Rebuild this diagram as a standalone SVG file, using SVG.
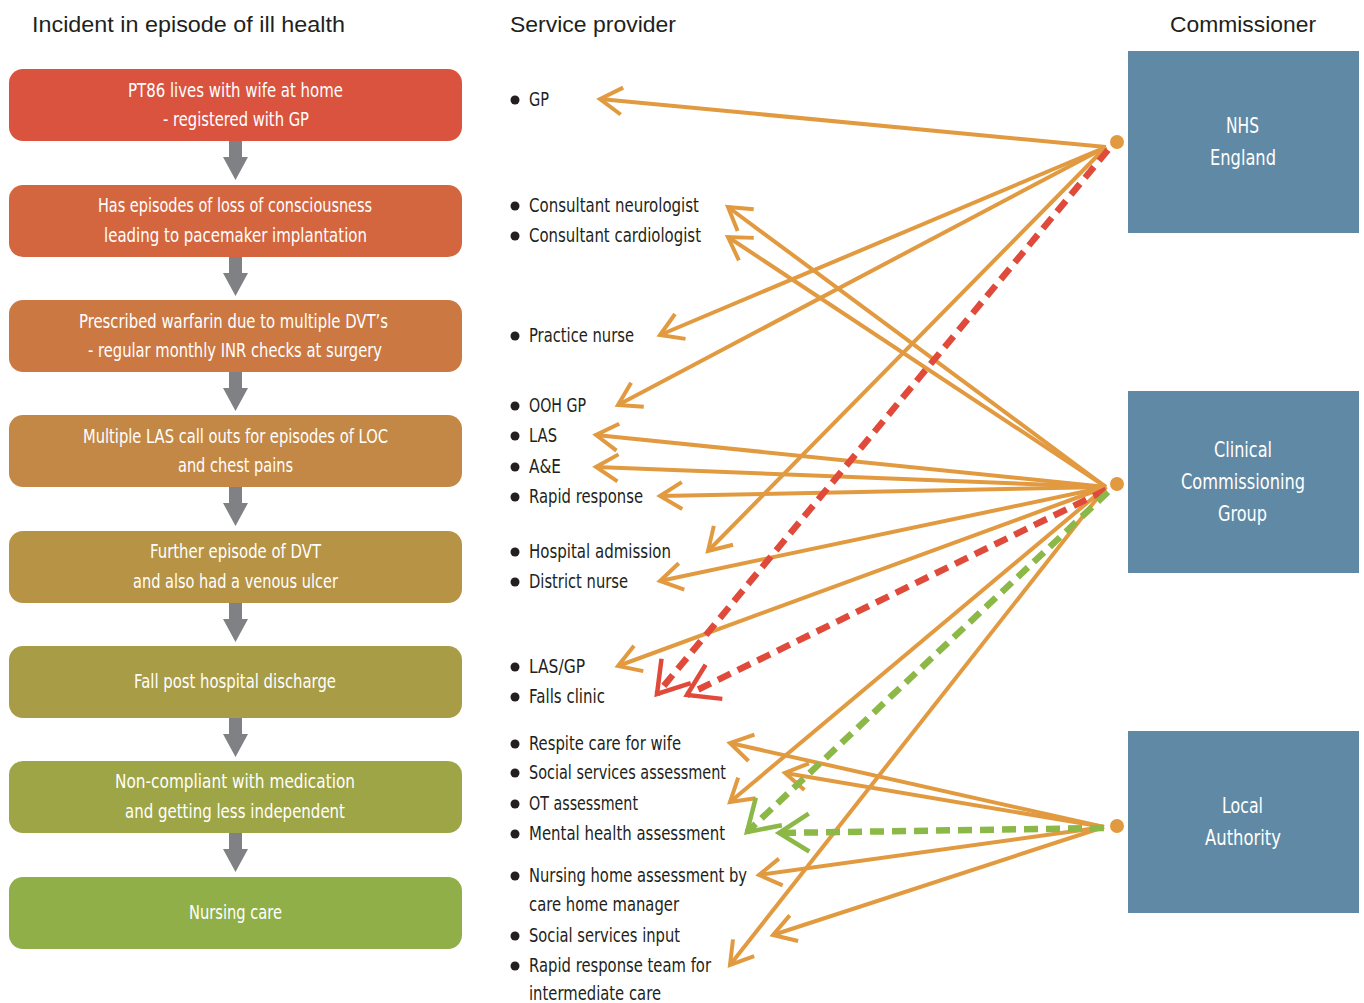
<svg xmlns="http://www.w3.org/2000/svg" width="1364" height="1003" viewBox="0 0 1364 1003">
<style>
.hdr{font-family:"Liberation Sans",Arial,sans-serif;font-size:22px;fill:#231F20}
.bx{font-family:"DejaVu Sans","Liberation Sans",sans-serif;font-size:19.5px;fill:#FFFFFF;text-anchor:middle}
.cm{font-family:"DejaVu Sans","Liberation Sans",sans-serif;font-size:21px;fill:#FFFFFF;text-anchor:middle}
.sp{font-family:"DejaVu Sans","Liberation Sans",sans-serif;font-size:19.5px;fill:#231F20}
.bul{fill:#231F20}
.garr{fill:#808184}
.comm{fill:#6089A5}
.o{fill:none;stroke:#E29A40;stroke-width:4;marker-end:url(#mo)}
.r{fill:none;stroke:#E04A3A;stroke-width:6.5;stroke-dasharray:14 8;marker-end:url(#mr)}
.g{fill:none;stroke:#8BB846;stroke-width:6.5;stroke-dasharray:14 8;marker-end:url(#mg)}
.dot{fill:#E29A40;stroke:#FFFFFF;stroke-width:3}
</style>
<defs>
<marker id="mo" markerUnits="userSpaceOnUse" orient="auto" refX="0" refY="0" markerWidth="60" markerHeight="60" viewBox="-40 -30 60 60" overflow="visible">
<path d="M-22,-13.5 L0,0 L-22,13.5" fill="none" stroke="#E29A40" stroke-width="4" stroke-dasharray="none"/>
</marker>
<marker id="mr" markerUnits="userSpaceOnUse" orient="auto" refX="0" refY="0" markerWidth="80" markerHeight="80" viewBox="-50 -40 80 80" overflow="visible">
<path d="M-30,-19 L0,0 L-30,19" fill="none" stroke="#E04A3A" stroke-width="4.5" stroke-dasharray="none"/>
</marker>
<marker id="mg" markerUnits="userSpaceOnUse" orient="auto" refX="0" refY="0" markerWidth="80" markerHeight="80" viewBox="-50 -40 80 80" overflow="visible">
<path d="M-30,-19 L0,0 L-30,19" fill="none" stroke="#8BB846" stroke-width="4.5" stroke-dasharray="none"/>
</marker>
<path id="ga" d="M229,0 H242 V16 H248 L235.5,39 L223,16 H229 Z"/>
</defs>
<rect width="1364" height="1003" fill="#FFFFFF"/>

<g id="headers">
<text class="hdr" x="32" y="32" textLength="313" lengthAdjust="spacingAndGlyphs">Incident in episode of ill health</text>
<text class="hdr" x="510" y="32" textLength="166" lengthAdjust="spacingAndGlyphs">Service provider</text>
<text class="hdr" x="1170" y="32" textLength="146" lengthAdjust="spacingAndGlyphs">Commissioner</text>
</g>

<g id="incidents">
<g id="inc1"><rect x="9" y="69" width="453" height="72" rx="14" fill="#D9533F"/><text class="bx" x="235.5" y="97" textLength="215" lengthAdjust="spacingAndGlyphs">PT86 lives with wife at home</text><text class="bx" x="236" y="126" textLength="146" lengthAdjust="spacingAndGlyphs">- registered with GP</text></g>
<g id="inc2"><rect x="9" y="185" width="453" height="72" rx="14" fill="#D4663F"/><text class="bx" x="235" y="212" textLength="274" lengthAdjust="spacingAndGlyphs">Has episodes of loss of consciousness</text><text class="bx" x="235.5" y="242" textLength="263" lengthAdjust="spacingAndGlyphs">leading to pacemaker implantation</text></g>
<g id="inc3"><rect x="9" y="300" width="453" height="72" rx="14" fill="#CB7843"/><text class="bx" x="233.5" y="328" textLength="309" lengthAdjust="spacingAndGlyphs">Prescribed warfarin due to multiple DVT’s</text><text class="bx" x="235" y="357" textLength="294" lengthAdjust="spacingAndGlyphs">- regular monthly INR checks at surgery</text></g>
<g id="inc4"><rect x="9" y="415" width="453" height="72" rx="14" fill="#C38845"/><text class="bx" x="235.5" y="443" textLength="305" lengthAdjust="spacingAndGlyphs">Multiple LAS call outs for episodes of LOC</text><text class="bx" x="235.5" y="472" textLength="115" lengthAdjust="spacingAndGlyphs">and chest pains</text></g>
<g id="inc5"><rect x="9" y="531" width="453" height="72" rx="14" fill="#B69345"/><text class="bx" x="235.5" y="558" textLength="171" lengthAdjust="spacingAndGlyphs">Further episode of DVT</text><text class="bx" x="235.5" y="588" textLength="205" lengthAdjust="spacingAndGlyphs">and also had a venous ulcer</text></g>
<g id="inc6"><rect x="9" y="646" width="453" height="72" rx="14" fill="#A89C46"/><text class="bx" x="235" y="688" textLength="202" lengthAdjust="spacingAndGlyphs">Fall post hospital discharge</text></g>
<g id="inc7"><rect x="9" y="761" width="453" height="72" rx="14" fill="#9DA546"/><text class="bx" x="235" y="788" textLength="240" lengthAdjust="spacingAndGlyphs">Non-compliant with medication</text><text class="bx" x="235" y="818" textLength="220" lengthAdjust="spacingAndGlyphs">and getting less independent</text></g>
<g id="inc8"><rect x="9" y="877" width="453" height="72" rx="14" fill="#90AF48"/><text class="bx" x="235.5" y="919" textLength="93" lengthAdjust="spacingAndGlyphs">Nursing care</text></g>
</g>

<g id="flow-arrows" class="garr">
<use href="#ga" y="141"/>
<use href="#ga" y="257"/>
<use href="#ga" y="372"/>
<use href="#ga" y="487"/>
<use href="#ga" y="603"/>
<use href="#ga" y="718"/>
<use href="#ga" y="833"/>
</g>

<g id="providers">
<circle class="bul" cx="515" cy="100" r="4.5"/><text class="sp" x="529" y="106" textLength="20" lengthAdjust="spacingAndGlyphs">GP</text>
<circle class="bul" cx="515" cy="206" r="4.5"/><text class="sp" x="529" y="212" textLength="170" lengthAdjust="spacingAndGlyphs">Consultant neurologist</text>
<circle class="bul" cx="515" cy="236" r="4.5"/><text class="sp" x="529" y="242" textLength="172" lengthAdjust="spacingAndGlyphs">Consultant cardiologist</text>
<circle class="bul" cx="515" cy="336" r="4.5"/><text class="sp" x="529" y="342" textLength="105" lengthAdjust="spacingAndGlyphs">Practice nurse</text>
<circle class="bul" cx="515" cy="406" r="4.5"/><text class="sp" x="529" y="412" textLength="57" lengthAdjust="spacingAndGlyphs">OOH GP</text>
<circle class="bul" cx="515" cy="436" r="4.5"/><text class="sp" x="529" y="442" textLength="28" lengthAdjust="spacingAndGlyphs">LAS</text>
<circle class="bul" cx="515" cy="467" r="4.5"/><text class="sp" x="529" y="473" textLength="32" lengthAdjust="spacingAndGlyphs">A&amp;E</text>
<circle class="bul" cx="515" cy="497" r="4.5"/><text class="sp" x="529" y="503" textLength="114" lengthAdjust="spacingAndGlyphs">Rapid response</text>
<circle class="bul" cx="515" cy="552" r="4.5"/><text class="sp" x="529" y="558" textLength="142" lengthAdjust="spacingAndGlyphs">Hospital admission</text>
<circle class="bul" cx="515" cy="582" r="4.5"/><text class="sp" x="529" y="588" textLength="99" lengthAdjust="spacingAndGlyphs">District nurse</text>
<circle class="bul" cx="515" cy="667" r="4.5"/><text class="sp" x="529" y="673" textLength="56" lengthAdjust="spacingAndGlyphs">LAS/GP</text>
<circle class="bul" cx="515" cy="697" r="4.5"/><text class="sp" x="529" y="703" textLength="76" lengthAdjust="spacingAndGlyphs">Falls clinic</text>
<circle class="bul" cx="515" cy="744" r="4.5"/><text class="sp" x="529" y="750" textLength="152" lengthAdjust="spacingAndGlyphs">Respite care for wife</text>
<circle class="bul" cx="515" cy="773" r="4.5"/><text class="sp" x="529" y="779" textLength="197" lengthAdjust="spacingAndGlyphs">Social services assessment</text>
<circle class="bul" cx="515" cy="804" r="4.5"/><text class="sp" x="529" y="810" textLength="109" lengthAdjust="spacingAndGlyphs">OT assessment</text>
<circle class="bul" cx="515" cy="834" r="4.5"/><text class="sp" x="529" y="840" textLength="196" lengthAdjust="spacingAndGlyphs">Mental health assessment</text>
<circle class="bul" cx="515" cy="876" r="4.5"/><text class="sp" x="529" y="882" textLength="218" lengthAdjust="spacingAndGlyphs">Nursing home assessment by</text>
<text class="sp" x="529" y="911" textLength="150" lengthAdjust="spacingAndGlyphs">care home manager</text>
<circle class="bul" cx="515" cy="936" r="4.5"/><text class="sp" x="529" y="942" textLength="151" lengthAdjust="spacingAndGlyphs">Social services input</text>
<circle class="bul" cx="515" cy="966" r="4.5"/><text class="sp" x="529" y="972" textLength="182" lengthAdjust="spacingAndGlyphs">Rapid response team for</text>
<text class="sp" x="529" y="1000" textLength="132" lengthAdjust="spacingAndGlyphs">intermediate care</text>
</g>

<g id="connectors">
<line class="o" x1="1106" y1="147" x2="600" y2="99"/>
<line class="o" x1="1106" y1="147" x2="660" y2="335"/>
<line class="o" x1="1106" y1="147" x2="618" y2="405"/>
<line class="o" x1="1106" y1="147" x2="708" y2="551"/>
<line class="o" x1="1106" y1="487" x2="728" y2="207"/>
<line class="o" x1="1106" y1="487" x2="728" y2="237"/>
<line class="o" x1="1106" y1="487" x2="596" y2="435"/>
<line class="o" x1="1106" y1="487" x2="596" y2="467"/>
<line class="o" x1="1106" y1="487" x2="660" y2="496"/>
<line class="o" x1="1106" y1="487" x2="660" y2="581"/>
<line class="o" x1="1106" y1="487" x2="618" y2="666"/>
<line class="o" x1="1106" y1="487" x2="730" y2="802"/>
<line class="o" x1="1106" y1="487" x2="730" y2="965"/>
<line class="o" x1="1104" y1="827" x2="730" y2="743"/>
<line class="o" x1="1104" y1="827" x2="785" y2="773"/>
<line class="o" x1="1104" y1="827" x2="759" y2="875"/>
<line class="o" x1="1104" y1="827" x2="773" y2="935"/>
<line class="r" x1="1108" y1="150" x2="657" y2="694"/>
<line class="r" x1="1106" y1="490" x2="687" y2="695"/>
<line class="g" x1="1108" y1="492" x2="747" y2="832"/>
<line class="g" x1="1104" y1="828" x2="779" y2="833"/>
</g>

<g id="commissioners">
<g id="nhs"><rect class="comm" x="1128" y="51" width="231" height="182"/><text class="cm" x="1242.5" y="133" textLength="33" lengthAdjust="spacingAndGlyphs">NHS</text><text class="cm" x="1243" y="165" textLength="66" lengthAdjust="spacingAndGlyphs">England</text><circle class="dot" cx="1117" cy="142" r="8.5"/></g>
<g id="ccg"><rect class="comm" x="1128" y="391" width="231" height="182"/><text class="cm" x="1243" y="457" textLength="58" lengthAdjust="spacingAndGlyphs">Clinical</text><text class="cm" x="1243" y="489" textLength="124" lengthAdjust="spacingAndGlyphs">Commissioning</text><text class="cm" x="1242.5" y="521" textLength="49" lengthAdjust="spacingAndGlyphs">Group</text><circle class="dot" cx="1117" cy="484" r="8.5"/></g>
<g id="la"><rect class="comm" x="1128" y="731" width="231" height="182"/><text class="cm" x="1242.5" y="813" textLength="41" lengthAdjust="spacingAndGlyphs">Local</text><text class="cm" x="1243" y="845" textLength="76" lengthAdjust="spacingAndGlyphs">Authority</text><circle class="dot" cx="1117" cy="826" r="8.5"/></g>
</g>
</svg>
